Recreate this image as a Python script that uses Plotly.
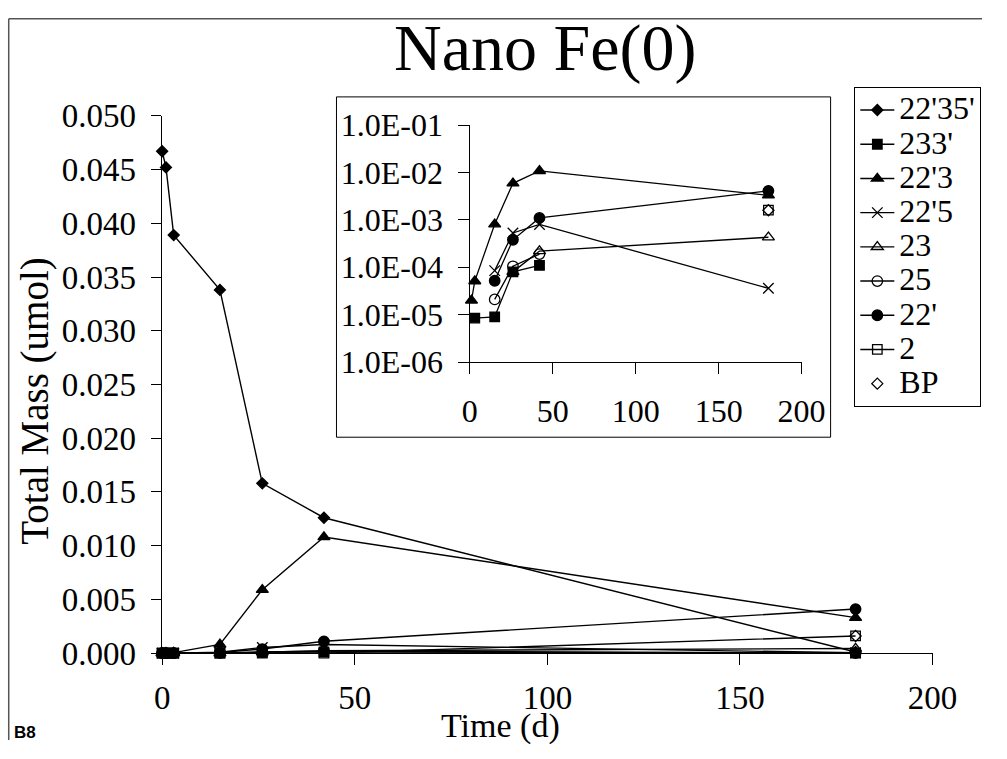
import plotly.graph_objects as go

W, H = 1007, 759

days = [0, 1, 3, 15, 26, 42, 180]
series_names = ["22'35'", "233'", "22'3", "22'5", "23", "25", "22'", "2", "BP"]
s_22355 = [0.0467, 0.0452, 0.0389, 0.0338, 0.0158, 0.0126, 0.0001]
s_2333 = [0, 0, 8.5e-6, 9.0e-6, 8.0e-5, 1.1e-4, 0]
s_2233 = [0, 2.0e-5, 5.1e-5, 8.1e-4, 5.9e-3, 1.08e-2, 3.3e-3]
s_2225 = [0, 0, 0, 8.5e-5, 5.3e-4, 8.0e-4, 3.6e-5]
s_23 = [0, 0, 0, 0, 8.0e-5, 2.2e-4, 4.3e-4]
s_25 = [0, 0, 0, 2.1e-5, 1.05e-4, 1.9e-4, 0]
s_22p = [0, 0, 0, 5.2e-5, 3.8e-4, 1.1e-3, 4.1e-3]
s_2 = [0, 0, 0, 0, 0, 0, 1.6e-3]
s_BP = [None, None, None, None, None, None, 1.6e-3]

main_x_ticks = [0, 50, 100, 150, 200]
inset_y_ticks = [1e-6, 1e-5, 1e-4, 1e-3, 1e-2, 1e-1]
inset_y_labels = ["1.0E-06", "1.0E-05", "1.0E-04", "1.0E-03", "1.0E-02", "1.0E-01"]

all_series = [s_22355, s_2333, s_2233, s_2225, s_23, s_25, s_22p, s_2, s_BP]
symbols = ["diamond", "square", "triangle-up", "x-thin-open", "triangle-up-open",
           "circle-open", "circle", "square-open", "diamond-open"]
sizes = [8.5, 9.5, 10.5, 10.5, 10.5, 10.5, 10.5, 9.5, 8.5]
modes = ["lines+markers"] * 8 + ["markers"]

FONT = "Times New Roman, Liberation Serif, serif"

# the photographed page is scaled/offset slightly; place items in page pixels
SX, BX, SY, BY = 0.967, 7.6, 0.956, 15.7

def px_x(p):
    return ((p - BX) / SX) / W

def px_y(p):
    return 1 - ((p - BY) / SY) / H

def legend_label(n):
    return '<span style="font-size:32px">' + n + '</span>'

fig = go.Figure()

for name, vals, sym, sz, mode in zip(series_names, all_series, symbols, sizes, modes):
    fig.add_trace(go.Scatter(
        x=days, y=vals, name=legend_label(name), mode=mode,
        line=dict(color="black", width=1.4),
        marker=dict(symbol=sym, size=sz, color="black",
                    line=dict(color="black", width=1.3)),
        cliponaxis=False, xaxis="x", yaxis="y", showlegend=True))

for name, vals, sym, sz, mode in list(zip(series_names, all_series, symbols, sizes, modes))[1:]:
    v2 = [v if (v is not None and v > 0) else None for v in vals]
    fig.add_trace(go.Scatter(
        x=days, y=v2, name=name, mode=mode,
        line=dict(color="black", width=1.3),
        marker=dict(symbol=sym, size=sz, color="black",
                    line=dict(color="black", width=1.3)),
        cliponaxis=False, xaxis="x2", yaxis="y2", showlegend=False))

def axis_common(fs):
    return dict(showline=True, linecolor="black", linewidth=1, ticks="outside",
                tickcolor="black", ticklen=10.5, showgrid=False, zeroline=False,
                tickfont=dict(family=FONT, size=fs, color="black"))

fig.update_layout(
    width=W, height=H,
    margin=dict(l=0, r=0, t=0, b=0),
    paper_bgcolor="white", plot_bgcolor="white",
    xaxis=dict(domain=[px_x(161.7), px_x(932)], range=[0, 200],
               tickvals=main_x_ticks, anchor="y", ticklabelstandoff=5, **axis_common(33)),
    yaxis=dict(domain=[px_y(654), px_y(114)], range=[0, 0.05], dtick=0.005,
               tickformat=".3f", anchor="x", ticklabelstandoff=8, **axis_common(33)),
    xaxis2=dict(domain=[px_x(469.3), px_x(801)], range=[0, 200],
                tickvals=main_x_ticks, anchor="y2", ticklabelstandoff=10, **axis_common(32)),
    yaxis2=dict(domain=[px_y(361.5), px_y(123.3)], type="log", range=[-6, -1],
                tickvals=inset_y_ticks, ticktext=inset_y_labels, anchor="x2",
                ticklabelstandoff=9, **axis_common(32)),
    legend=dict(x=875 / W, y=px_y(85), xanchor="left", yanchor="top",
                bgcolor="white", bordercolor="black", borderwidth=1,
                font=dict(family=FONT, size=24, color="black"),
                tracegroupgap=0, itemwidth=34),
    shapes=[
        dict(type="rect", xref="paper", yref="paper",
             x0=px_x(336), x1=px_x(830), y0=px_y(437), y1=px_y(95),
             line=dict(color="black", width=1), fillcolor="white", layer="below"),
        dict(type="line", xref="paper", yref="paper",
             x0=0.75 / W, x1=1, y0=1 - 0.75 / H, y1=1 - 0.75 / H,
             line=dict(color="#555555", width=1.5)),
        dict(type="line", xref="paper", yref="paper",
             x0=0.75 / W, x1=0.75 / W, y0=0, y1=1 - 0.75 / H,
             line=dict(color="#555555", width=1.5)),
    ],
    annotations=[
        dict(text="Nano Fe(0)", xref="paper", yref="paper", x=px_x(544), y=px_y(46),
             xanchor="center", yanchor="middle", showarrow=False,
             font=dict(family=FONT, size=66, color="black")),
        dict(text="Total Mass (umol)", xref="paper", yref="paper", x=px_x(35), y=px_y(400),
             xanchor="center", yanchor="middle", textangle=-90, showarrow=False,
             font=dict(family=FONT, size=39, color="black")),
        dict(text="Time (d)", xref="paper", yref="paper", x=px_x(500), y=px_y(727),
             xanchor="center", yanchor="middle", showarrow=False,
             font=dict(family=FONT, size=34, color="black")),
        dict(text="<b>B8</b>", xref="paper", yref="paper", x=4.5 / W, y=1 - 751 / H,
             xanchor="left", yanchor="middle", showarrow=False,
             font=dict(family="Arial, Liberation Sans, sans-serif", size=17, color="black")),
    ],
)

fig.write_html(
    "out.html",
    config={"displayModeBar": False},
    post_script=("document.body.style.margin='0px';"
                 "document.body.style.padding='0px';"
                 "document.documentElement.style.overflow='hidden';"),
)
